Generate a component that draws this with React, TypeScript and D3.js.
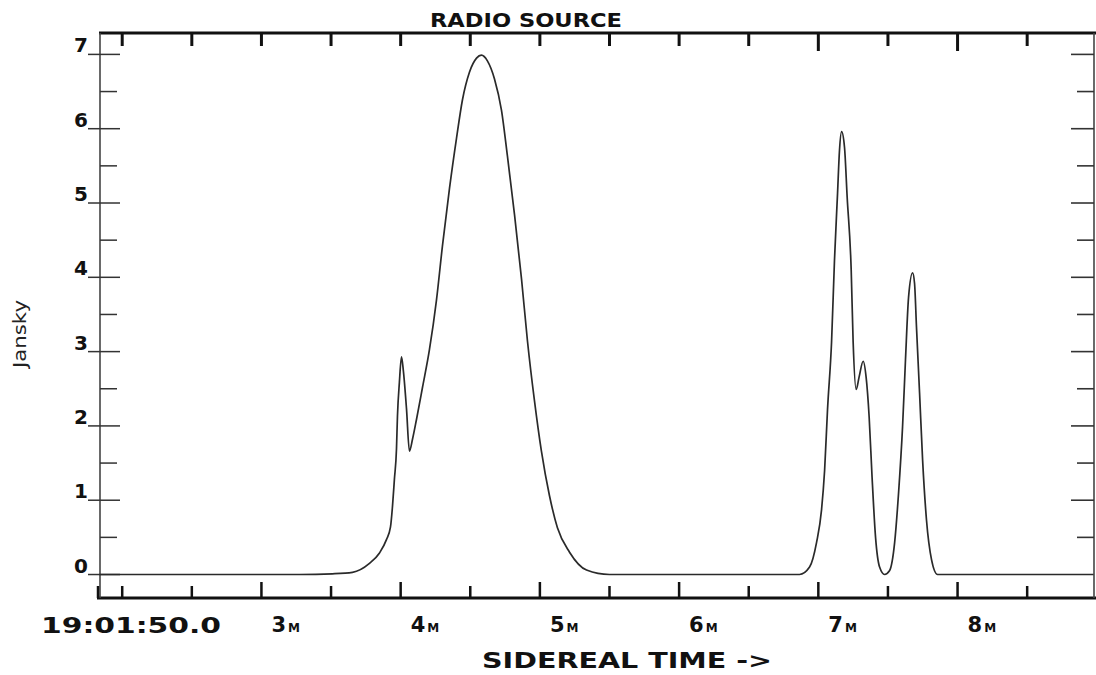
import { useRef, useEffect } from "react";
import * as d3 from "d3";

// minutes after 19:00 sidereal time
const sidereal = [
  1.836, 2.555, 3.273, 3.51, 3.654, 3.776, 3.848, 3.898, 3.927, 3.941, 3.955, 3.97, 3.977, 3.991,
  4.006, 4.02, 4.042, 4.063, 4.085, 4.113, 4.157, 4.207, 4.257, 4.3, 4.351, 4.401, 4.444, 4.494,
  4.545, 4.58, 4.624, 4.674, 4.724, 4.767, 4.818, 4.868, 4.911, 4.961, 5.011, 5.069, 5.126, 5.213,
  5.335, 5.5, 5.716, 6.147, 6.865, 6.937, 6.987, 7.023, 7.045, 7.066, 7.095, 7.116, 7.138, 7.152,
  7.167, 7.188, 7.207, 7.236, 7.25, 7.272, 7.293, 7.322, 7.343, 7.365, 7.386, 7.411, 7.44, 7.476,
  7.511, 7.548, 7.576, 7.605, 7.626, 7.648, 7.677, 7.691, 7.705, 7.727, 7.749, 7.777, 7.813, 7.856,
  7.943, 8.977,
];

const jansky = [
  0, 0, 0, 0.01, 0.03, 0.15, 0.29, 0.47, 0.64, 0.91, 1.28, 1.69, 2.13, 2.59,
  2.93, 2.73, 2.23, 1.66, 1.82, 2.08, 2.52, 3.03, 3.69, 4.42, 5.2, 5.87, 6.39, 6.76,
  6.95, 6.99, 6.91, 6.67, 6.25, 5.63, 4.84, 3.98, 3.14, 2.34, 1.66, 1.06, 0.63, 0.3,
  0.06, 0, 0, 0, 0, 0.1, 0.43, 0.87, 1.4, 2.22, 3.13, 4.23, 5.13, 5.71,
  5.96, 5.75, 5.08, 4.1, 3.13, 2.49, 2.66, 2.87, 2.66, 2.12, 1.31, 0.5, 0.1, 0,
  0.05, 0.43, 1.09, 1.99, 2.89, 3.73, 4.06, 3.92, 3.33, 2.45, 1.54, 0.73, 0.2, 0,
  0, 0,
];

const yMajor = [0, 1, 2, 3, 4, 5, 6, 7];
const yMinor = [0.5, 1.5, 2.5, 3.5, 4.5, 5.5, 6.5];
const xTicks = [2, 2.5, 3, 3.5, 4, 4.5, 5, 5.5, 6, 6.5, 7, 7.5, 8, 8.5];
const minuteLabels = [3, 4, 5, 6, 7, 8];
const startLabel = "19:01:50.0";
const title = "RADIO SOURCE";
const xTitle = "SIDEREAL TIME ->";
const yTitle = "Jansky";

const RadioChart = () => {
  const container = useRef(null);

  useEffect(() => {
    createChart();
  });

  const createChart = () => {
    const node = container.current;
    const dims = { width: 1096, height: 675 };
    const frame = { l: 99, r: 1094, t: 33, b: 598 };
    const font = "'DejaVu Sans', sans-serif";

    const data = sidereal.map((t, i) => ({ t: t, v: jansky[i] }));

    const svg = d3
      .select(node)
      .selectAll("svg")
      .data([0])
      .join("svg")
      .attr("width", dims.width)
      .attr("height", dims.height)
      .style("position", "absolute")
      .style("left", "0px")
      .style("top", "0px")
      .style("background", "#fff");

    svg.selectAll("*").remove();

    const xScale = d3.scaleLinear().domain([1.8333, 8.98]).range([frame.l, frame.r]);
    const yScale = d3.scaleLinear().domain([-0.316, 7.288]).range([frame.b, frame.t]);

    // frame
    svg.append("line")
      .attr("x1", frame.l).attr("x2", dims.width).attr("y1", frame.t).attr("y2", frame.t)
      .attr("stroke", "#111").attr("stroke-width", 3);
    svg.append("line")
      .attr("x1", frame.l - 2).attr("x2", dims.width).attr("y1", frame.b).attr("y2", frame.b)
      .attr("stroke", "#111").attr("stroke-width", 3);
    svg.append("line")
      .attr("x1", frame.l + 1).attr("x2", frame.l + 1).attr("y1", frame.t).attr("y2", frame.b)
      .attr("stroke", "#444").attr("stroke-width", 1.6);
    svg.append("line")
      .attr("x1", frame.r).attr("x2", frame.r).attr("y1", frame.t).attr("y2", frame.b)
      .attr("stroke", "#444").attr("stroke-width", 1.6);

    // time ticks, bottom (up) and top (down)
    svg.selectAll(".xtick-b")
      .data(xTicks)
      .join("line")
      .attr("class", "xtick-b")
      .attr("x1", (d) => xScale(d)).attr("x2", (d) => xScale(d))
      .attr("y1", frame.b).attr("y2", (d) => frame.b - (d % 1 === 0 && d > 2 ? 16 : 12))
      .attr("stroke", "#111").attr("stroke-width", 2.5);
    svg.append("line")
      .attr("x1", frame.l - 1).attr("x2", frame.l - 1).attr("y1", frame.b).attr("y2", frame.b - 12)
      .attr("stroke", "#111").attr("stroke-width", 2.5);

    svg.selectAll(".xtick-t")
      .data(xTicks)
      .join("line")
      .attr("class", "xtick-t")
      .attr("x1", (d) => xScale(d)).attr("x2", (d) => xScale(d))
      .attr("y1", frame.t).attr("y2", (d) => frame.t + (d % 1 === 0 && d > 6 ? 18 : 13))
      .attr("stroke", "#111").attr("stroke-width", 3);

    // jansky ticks left and right
    svg.selectAll(".ytick-l")
      .data(yMajor)
      .join("line")
      .attr("class", "ytick-l")
      .attr("x1", frame.l - 11).attr("x2", frame.l + 21)
      .attr("y1", (d) => yScale(d)).attr("y2", (d) => yScale(d))
      .attr("stroke", "#333").attr("stroke-width", 1.5);
    svg.selectAll(".ytick-lm")
      .data(yMinor)
      .join("line")
      .attr("class", "ytick-lm")
      .attr("x1", frame.l + 1).attr("x2", frame.l + 18)
      .attr("y1", (d) => yScale(d)).attr("y2", (d) => yScale(d))
      .attr("stroke", "#333").attr("stroke-width", 1.5);

    svg.selectAll(".ytick-r")
      .data([...yMajor.slice(1), ...yMinor])
      .join("line")
      .attr("class", "ytick-r")
      .attr("x1", (d) => frame.r - (d % 1 === 0 ? 23 : 17)).attr("x2", frame.r)
      .attr("y1", (d) => yScale(d)).attr("y2", (d) => yScale(d))
      .attr("stroke", "#333").attr("stroke-width", 1.6);

    // y labels
    svg.selectAll(".ylabel")
      .data(yMajor)
      .join("text")
      .attr("class", "ylabel")
      .attr("x", frame.l - 11)
      .attr("y", (d) => yScale(d) - 2)
      .attr("text-anchor", "end")
      .style("font-family", font)
      .style("font-weight", "bold")
      .style("font-size", "20px")
      .attr("fill", "#111")
      .text((d) => d);

    // minute labels
    const ml = svg.selectAll(".mlabel")
      .data(minuteLabels)
      .join("text")
      .attr("class", "mlabel")
      .attr("x", (d) => xScale(d) + 10)
      .attr("y", 632)
      .style("font-family", font)
      .style("font-weight", "bold")
      .attr("fill", "#111");
    ml.append("tspan").style("font-size", "21px").text((d) => d);
    ml.append("tspan").attr("dx", 2).style("font-size", "12px").text("M");

    svg.append("text")
      .attr("x", 41).attr("y", 633)
      .attr("textLength", 180).attr("lengthAdjust", "spacingAndGlyphs")
      .style("font-family", font).style("font-weight", "bold").style("font-size", "21px")
      .attr("fill", "#111")
      .text(startLabel);

    svg.append("text")
      .attr("x", 482).attr("y", 668)
      .attr("textLength", 290).attr("lengthAdjust", "spacingAndGlyphs")
      .style("font-family", font).style("font-weight", "bold").style("font-size", "21px")
      .attr("fill", "#111")
      .text(xTitle);

    svg.append("text")
      .attr("x", 430).attr("y", 27)
      .attr("textLength", 192).attr("lengthAdjust", "spacingAndGlyphs")
      .style("font-family", font).style("font-weight", "bold").style("font-size", "20px")
      .attr("fill", "#111")
      .text(title);

    svg.append("text")
      .attr("transform", "translate(26,334) rotate(-90)")
      .attr("text-anchor", "middle")
      .attr("textLength", 68).attr("lengthAdjust", "spacingAndGlyphs")
      .style("font-family", font).style("font-size", "17px")
      .attr("fill", "#222")
      .text(yTitle);

    // the curve
    const line = d3
      .line()
      .x((d) => xScale(d.t))
      .y((d) => yScale(d.v))
      .curve(d3.curveMonotoneX);

    svg.append("path")
      .datum(data)
      .attr("d", line)
      .attr("fill", "none")
      .attr("stroke", "#2a2a2a")
      .attr("stroke-width", 1.7);
  };

  return <div ref={container}></div>;
};

export default function App() {
  return <RadioChart />;
}
